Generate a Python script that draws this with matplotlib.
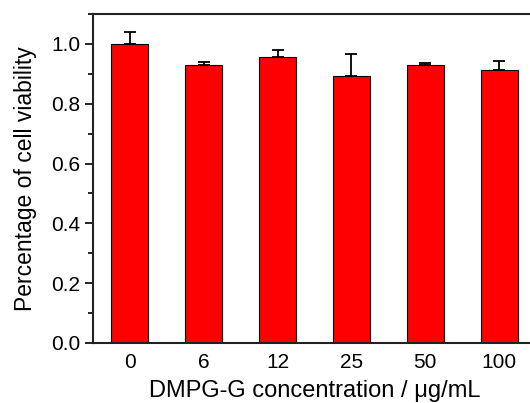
import numpy as np
import matplotlib.pyplot as plt
from matplotlib.ticker import MultipleLocator

plt.rcParams['font.family'] = ['Liberation Sans', 'DejaVu Sans']

conc = ['0', '6', '12', '25', '50', '100']
viability = [1.000, 0.929, 0.957, 0.893, 0.929, 0.912]
err = [0.040, 0.011, 0.021, 0.074, 0.007, 0.031]

fig = plt.figure(figsize=(5.30, 4.03), dpi=100)
ax = fig.add_axes([0.1755, 0.1489, 0.836, 0.8164])

x = np.arange(len(conc))
ax.bar(x, viability, width=0.5, color='#ff0000', edgecolor='black', linewidth=0.8)
ax.errorbar(x, viability, yerr=[np.zeros(len(err)), err], fmt='none',
            ecolor='black', elinewidth=1.3, capsize=4, capthick=1.3)

ax.set_xlim(-0.5, 5.5)
ax.set_ylim(0, 1.1)
ax.set_xticks(x)
ax.set_xticklabels(conc)
ax.yaxis.set_minor_locator(MultipleLocator(0.1))
ax.set_yticks([0, 0.2, 0.4, 0.6, 0.8, 1.0])
ax.set_yticklabels(['0.0', '0.2', '0.4', '0.6', '0.8', '1.0'])

ax.tick_params(axis='y', which='major', direction='out', length=6, width=1.2, labelsize=15, pad=3)
ax.tick_params(axis='y', which='minor', direction='out', length=3.5, width=1.2)
ax.tick_params(axis='x', which='both', length=0, labelsize=15, pad=7)

for s in ax.spines.values():
    s.set_linewidth(1.5)
    s.set_color('#222222')

ax.set_xlabel('DMPG-G concentration / \u03bcg/mL', fontsize=17, labelpad=6)
ax.set_ylabel('Percentage of cell viability', fontsize=16.5, labelpad=10)

fig.savefig('out.png', dpi=100)
